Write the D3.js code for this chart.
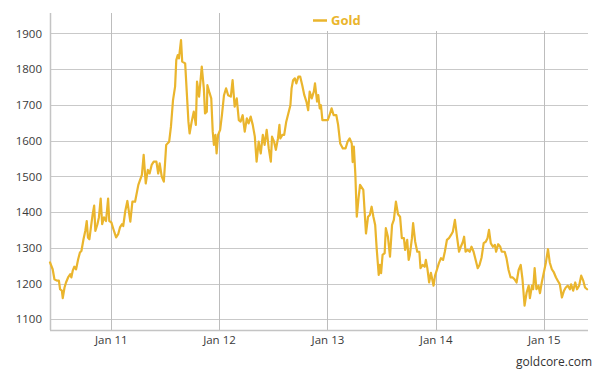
<!DOCTYPE html>
<html><head><meta charset="utf-8">
<script src="https://cdn.jsdelivr.net/npm/d3@7"></script>
<style>
html,body{margin:0;padding:0;background:#fff;}
svg{display:block;font-family:"Open Sans",sans-serif;}
</style></head>
<body><svg id="c" width="606" height="372"></svg>
<script>
const seriesName = "Gold";
const credit = "goldcore.com";
const dates = [
"2010-06-10","2010-06-19","2010-06-25","2010-07-03","2010-07-10","2010-07-14","2010-07-20","2010-07-23","2010-07-29","2010-08-03",
"2010-08-10","2010-08-17","2010-08-21","2010-08-26","2010-08-31","2010-09-06","2010-09-13","2010-09-19","2010-09-24","2010-10-01",
"2010-10-07","2010-10-12","2010-10-16","2010-10-21","2010-10-26","2010-11-01","2010-11-06","2010-11-10","2010-11-17","2010-11-22",
"2010-11-28","2010-12-03","2010-12-09","2010-12-16","2010-12-23","2010-12-27","2011-01-03","2011-01-10","2011-01-19","2011-01-26",
"2011-02-01","2011-02-08","2011-02-12","2011-02-19","2011-02-26",
"2011-03-08","2011-03-15","2011-03-24","2011-04-04","2011-04-16","2011-04-22","2011-04-29","2011-05-06","2011-05-12","2011-05-19",
"2011-05-26","2011-06-04","2011-06-10","2011-06-15","2011-06-22","2011-06-29","2011-07-03","2011-07-07","2011-07-17","2011-07-23",
"2011-07-30","2011-08-06","2011-08-10","2011-08-15","2011-08-19","2011-08-26","2011-08-30","2011-09-09","2011-09-15","2011-09-20",
"2011-09-24","2011-10-01","2011-10-08","2011-10-15","2011-10-19","2011-10-26","2011-11-04","2011-11-11","2011-11-15",
"2011-11-21","2011-11-23","2011-11-29","2011-12-06","2011-12-11","2011-12-15","2011-12-20","2011-12-24","2011-12-29","2012-01-05",
"2012-01-11","2012-01-18","2012-01-25","2012-02-01","2012-02-10","2012-02-16","2012-02-23","2012-03-01","2012-03-08","2012-03-14",
"2012-03-21","2012-03-28","2012-04-04","2012-04-10","2012-04-17","2012-04-24","2012-05-01","2012-05-07","2012-05-14","2012-05-21",
"2012-05-28","2012-06-03","2012-06-10","2012-06-17","2012-06-24","2012-06-28","2012-07-05","2012-07-11","2012-07-18","2012-07-23",
"2012-07-26","2012-08-02","2012-08-08","2012-08-15","2012-08-22","2012-08-29","2012-09-02","2012-09-07","2012-09-13","2012-09-18",
"2012-09-25","2012-10-01","2012-10-08","2012-10-15","2012-10-22","2012-10-28","2012-11-02","2012-11-09","2012-11-16","2012-11-20",
"2012-11-27","2012-12-01","2012-12-06","2012-12-10","2012-12-15","2012-12-24","2013-01-02","2013-01-08","2013-01-15","2013-01-22",
"2013-01-31","2013-02-06","2013-02-13","2013-02-22","2013-03-03","2013-03-10","2013-03-17","2013-03-24","2013-03-27","2013-03-31",
"2013-04-05","2013-04-10",
"2013-04-16","2013-04-21","2013-05-02","2013-05-11","2013-05-18","2013-05-24","2013-05-30","2013-06-05","2013-06-11","2013-06-16",
"2013-06-23","2013-06-27","2013-07-01","2013-07-06","2013-07-13","2013-07-17","2013-07-24","2013-07-31","2013-08-07","2013-08-13",
"2013-08-20","2013-08-27","2013-09-03","2013-09-09","2013-09-16","2013-09-20","2013-09-27","2013-10-02","2013-10-06","2013-10-13",
"2013-10-17","2013-10-24","2013-10-31","2013-11-07","2013-11-11","2013-11-18","2013-11-25","2013-11-29","2013-12-04","2013-12-10",
"2013-12-16","2013-12-25","2013-12-30","2014-01-05","2014-01-12","2014-01-19","2014-01-26","2014-02-01","2014-02-08","2014-02-15",
"2014-02-22","2014-02-28","2014-03-07","2014-03-14","2014-03-21","2014-03-27","2014-04-03","2014-04-07","2014-04-12","2014-04-19",
"2014-04-26","2014-05-02","2014-05-09","2014-05-16","2014-05-23","2014-05-29","2014-06-05","2014-06-12","2014-06-19","2014-06-25",
"2014-06-30","2014-07-06","2014-07-13","2014-07-20","2014-07-24","2014-07-31",
"2014-08-07","2014-08-12","2014-08-22","2014-08-28","2014-09-04","2014-09-11","2014-09-18","2014-09-24","2014-10-01","2014-10-08",
"2014-10-15","2014-10-21","2014-10-28","2014-11-04","2014-11-11","2014-11-15","2014-11-22","2014-11-26","2014-12-01","2014-12-07",
"2014-12-14","2014-12-19","2014-12-25","2015-01-01","2015-01-08","2015-01-15","2015-01-21","2015-01-28","2015-02-04","2015-02-11",
"2015-02-17","2015-02-24","2015-03-03","2015-03-10","2015-03-16","2015-03-23","2015-03-30","2015-04-03","2015-04-10","2015-04-17",
"2015-04-23","2015-04-30","2015-05-07","2015-05-14","2015-05-20","2015-05-27"
];
const prices = [
1259,1240,1212,1208,1208,1184,1180,1159,1189,1203,
1217,1226,1217,1237,1247,1240,1268,1287,1291,1324,
1347,1375,1329,1324,1357,1394,1418,1347,1366,1385,
1438,1366,1385,1375,1438,1375,1371,1352,1329,1338,
1357,1366,1361,1403,1431,
1373,1429,1429,1476,1504,1560,1480,1518,1508,1532,
1541,1541,1508,1536,1499,1485,1536,1588,1597,1639,
1713,1751,1825,1839,1830,1881,1821,1816,1727,1653,
1620,1653,1681,1644,1765,1723,1807,1746,1676,
1681,1755,1737,1718,1625,1588,1616,1564,1616,1630,
1671,1727,1746,1727,1723,1769,1695,1718,1657,1653,
1671,1625,1662,1648,1667,1644,1611,1541,1597,1564,
1616,1588,1630,1578,1541,1611,1597,1574,1606,1644,
1606,1616,1616,1653,1676,1699,1746,1769,1774,1760,
1779,1779,1755,1727,1709,1685,1737,1718,1737,1760,
1709,1727,1690,1699,1657,1657,1657,1671,1690,1671,
1671,1644,1592,1578,1578,1597,1606,1592,1540,1583,
1508,1387,
1440,1476,1462,1340,1387,1392,1415,1387,1364,1299,
1224,1252,1229,1280,1285,1355,1331,1275,1364,1378,
1429,1394,1387,1327,1327,1294,1322,1266,1280,1327,
1369,1317,1289,1289,1243,1252,1247,1266,1243,1203,
1230,1194,1222,1238,1257,1271,1266,1289,1322,1327,
1336,1345,1378,1331,1289,1303,1317,1331,1289,1294,
1289,1303,1289,1266,1243,1252,1273,1313,1317,1327,
1350,1313,1303,1308,1289,1310,
1303,1289,1289,1271,1238,1217,1217,1212,1203,1238,
1252,1212,1138,1175,1194,1159,1194,1184,1243,1184,
1194,1173,1203,1231,1259,1296,1259,1240,1231,1217,
1208,1198,1161,1180,1189,1194,1184,1198,1180,1203,
1184,1194,1222,1208,1189,1184
];
const xDomain = ["2010-06-10","2015-05-30"];
const yDomain = [1070, 1957];
const yTicks = [1100,1200,1300,1400,1500,1600,1700,1800,1900];
const xTickDates = ["2011-01-01","2012-01-01","2013-01-01","2014-01-01","2015-01-01"];
const xTickLabels = ["Jan 11","Jan 12","Jan 13","Jan 14","Jan 15"];

const parse = d3.utcParse("%Y-%m-%d");
const data = dates.map((d,i)=>({date:parse(d), value:prices[i]}));

const m = {left:50, right:588, top:13, bottom:330};
const x = d3.scaleUtc().domain(xDomain.map(parse)).range([m.left, m.right]);
const y = d3.scaleLinear().domain(yDomain).range([m.bottom, m.top]);

const svg = d3.select("#c");
const lineColor = "#eab52d";

// horizontal grid
svg.append("g").selectAll("line").data(yTicks).join("line")
  .attr("x1", m.left).attr("x2", m.right)
  .attr("y1", d=>Math.round(y(d))+0.5).attr("y2", d=>Math.round(y(d))+0.5)
  .attr("stroke","#c9c9c9").attr("stroke-width",1);

// vertical grid
const tickDates = xTickDates.map(parse);
svg.append("g").selectAll("line").data(tickDates).join("line")
  .attr("x1", d=>Math.round(x(d))+0.5).attr("x2", d=>Math.round(x(d))+0.5)
  .attr("y1", m.top).attr("y2", m.bottom)
  .attr("stroke","#bdbdbd").attr("stroke-width",1);

// axes lines
svg.append("line").attr("x1",m.left+0.5).attr("x2",m.left+0.5).attr("y1",m.top).attr("y2",m.bottom)
  .attr("stroke","#c4c4c4").attr("stroke-width",1.5);
svg.append("line").attr("x1",m.left).attr("x2",m.right).attr("y1",m.bottom+0.5).attr("y2",m.bottom+0.5)
  .attr("stroke","#c4c4c4").attr("stroke-width",1.5);

// y labels
const yAxis = d3.axisLeft(y).tickValues(yTicks).tickSize(0).tickPadding(8).tickFormat(d3.format("d"));
const gy = svg.append("g").attr("transform",`translate(${m.left},0)`).call(yAxis);
gy.select(".domain").remove();
gy.selectAll("text").attr("font-size",11.5).attr("fill","#3a3a3a").attr("font-family","'Open Sans',sans-serif");

// x labels
const xAxis = d3.axisBottom(x).tickValues(tickDates).tickSize(0).tickPadding(6)
  .tickFormat((d,i)=>xTickLabels[i]);
const gx = svg.append("g").attr("transform",`translate(0,${m.bottom})`).call(xAxis);
gx.select(".domain").remove();
gx.selectAll("text").attr("font-size",11.5).attr("fill","#3a3a3a").attr("font-family","'Open Sans',sans-serif");

// legend background (covers grid)
svg.append("rect").attr("x",300).attr("y",m.top).attr("width",m.right-300+1).attr("height",18).attr("fill","#fff");

// line
const line = d3.line().x(d=>x(d.date)).y(d=>y(d.value));
svg.append("path").datum(data).attr("d",line)
  .attr("fill","none").attr("stroke",lineColor).attr("stroke-width",2.2)
  .attr("stroke-linejoin","round").attr("stroke-linecap","round");

// legend
svg.append("line").attr("x1",313).attr("x2",327).attr("y1",20.5).attr("y2",20.5)
  .attr("stroke",lineColor).attr("stroke-width",2.5);
svg.append("text").attr("x",331).attr("y",25).text(seriesName)
  .attr("font-size",13).attr("font-weight","bold").attr("fill",lineColor);

// credit
svg.append("text").attr("x",592).attr("y",366).attr("text-anchor","end").text(credit)
  .attr("font-size",12).attr("fill","#333");
</script></body></html>
